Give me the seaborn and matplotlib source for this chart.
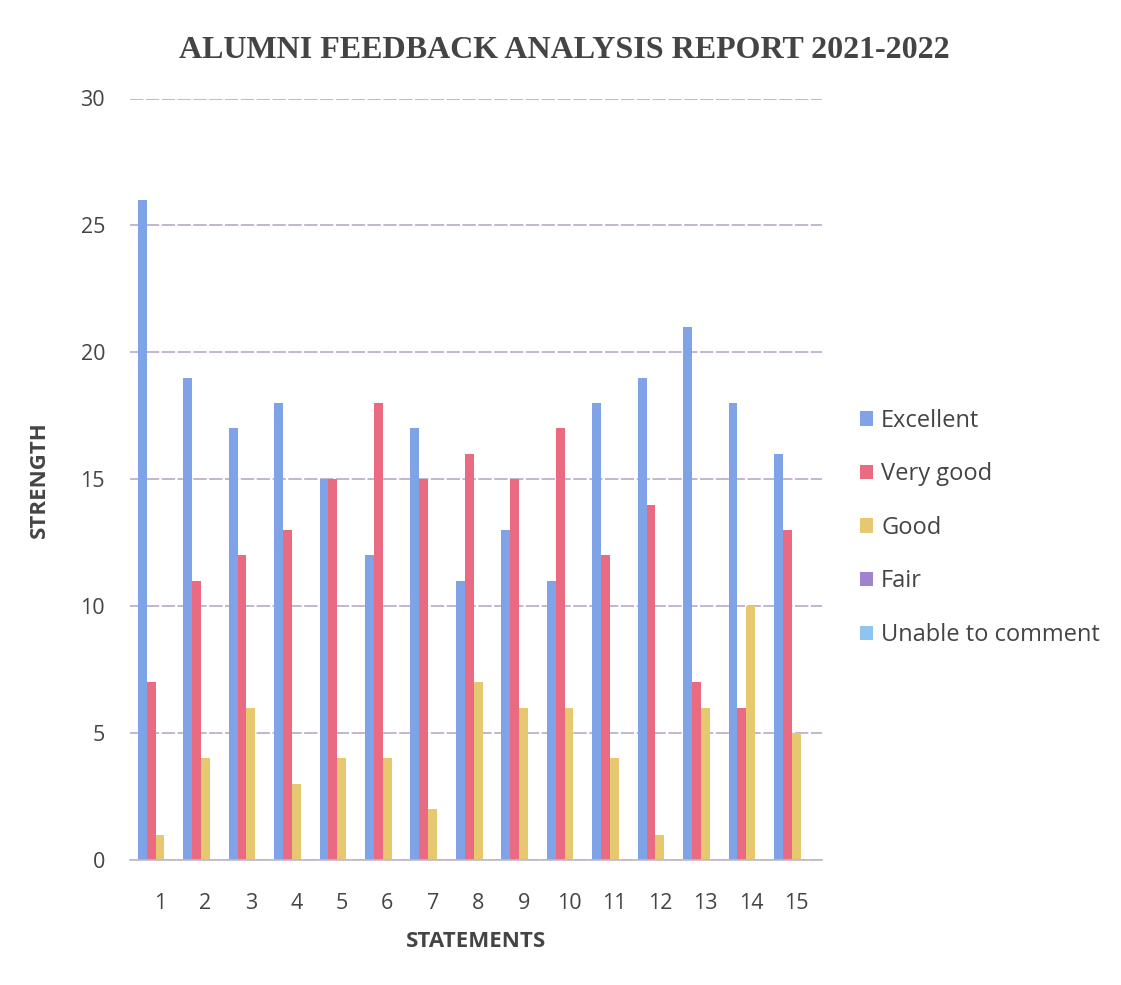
import numpy as np
import pandas as pd
import matplotlib
matplotlib.use("Agg")
import matplotlib.pyplot as plt
import seaborn as sns
from matplotlib.patches import Patch

statements = [str(i) for i in range(1, 16)]
series_names = ["Excellent", "Very good", "Good", "Fair", "Unable to comment"]
excellent = [26, 19, 17, 18, 15, 12, 17, 11, 13, 11, 18, 19, 21, 18, 16]
very_good = [7, 11, 12, 13, 15, 18, 15, 16, 15, 17, 12, 14, 7, 6, 13]
good = [1, 4, 6, 3, 4, 4, 2, 7, 6, 6, 4, 1, 6, 10, 5]
fair = [0] * 15
unable = [0] * 15
colors = ["#7fa3e6", "#ea6a82", "#e6c870", "#9d83d0", "#8fc4ee"]

rows = []
for name, vals in zip(series_names, [excellent, very_good, good, fair, unable]):
    for s, v in zip(statements, vals):
        rows.append({"Statement": s, "Series": name, "Value": v})
df = pd.DataFrame(rows)

sns.set_theme(style="white")
plt.rcParams['font.family'] = ['Open Sans', 'DejaVu Sans']

fig = plt.figure(figsize=(11.21, 9.85), dpi=100)
ax = fig.add_axes([0.116, 0.127, 0.617, 0.773])

sns.barplot(data=df, x="Statement", y="Value", hue="Series", order=statements,
            hue_order=series_names, palette=colors, width=0.98, ax=ax,
            legend=False, errorbar=None, saturation=1, linewidth=0)

ax.set_ylim(0, 30)
ax.set_yticks([0, 5, 10, 15, 20, 25, 30])
ax.set_xlim(-0.66, 14.56)
ax.yaxis.grid(True, color="#b9a9c6", linewidth=1.2, linestyle=(0, (8, 1.5)))
ax.set_axisbelow(True)
for sp in ["top", "right", "left"]:
    ax.spines[sp].set_visible(False)
ax.spines["bottom"].set_color("#c0b8c8")
ax.tick_params(axis="y", labelsize=15.5, colors="#444444", length=0, pad=18)
ax.tick_params(axis="x", labelsize=15.5, colors="#444444", length=0, pad=24)
ax.set_xlabel("STATEMENTS", fontsize=16, fontweight="bold", color="#444444", labelpad=12)
ax.set_ylabel("STRENGTH", fontsize=16, fontweight="bold", color="#444444", labelpad=22)

fig.suptitle("ALUMNI FEEDBACK ANALYSIS REPORT 2021-2022", x=0.503, y=0.963,
             fontsize=23, fontweight="bold", color="#444444", family="Liberation Serif")

handles = [Patch(facecolor=c, edgecolor="none") for c in colors]
fig.legend(handles, series_names, loc="center left", bbox_to_anchor=(0.748, 0.464),
           frameon=False, fontsize=17, handlelength=0.55, handleheight=0.55,
           labelspacing=1.25, handletextpad=0.35, labelcolor="#444444")

fig.savefig("out.png", dpi=100, facecolor="white")
